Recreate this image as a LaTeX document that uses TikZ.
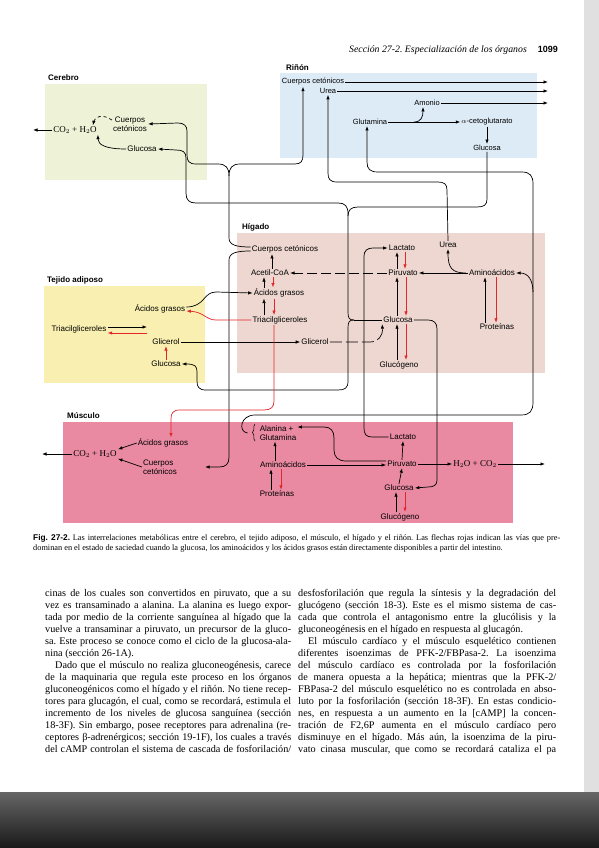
\documentclass[tikz,border=0pt]{standalone}
\usepackage{fontspec}
\setmainfont{Liberation Serif}
\newfontfamily\sansf{Liberation Sans}
\usetikzlibrary{arrows.meta,decorations.pathreplacing}
\definecolor{cerC}{HTML}{EEF2D6}
\definecolor{rinC}{HTML}{DDEBF6}
\definecolor{higC}{HTML}{EDD7D0}
\definecolor{adiC}{HTML}{F8EFB0}
\definecolor{musC}{HTML}{E98AA2}
\definecolor{myred}{HTML}{E3262A}
\newcommand{\jl}[2]{\makebox[#1][s]{#2}}
\frenchspacing
\begin{document}
\begin{tikzpicture}[x=1pt,y=-1pt,
  lbl/.style={font=\sansf\fontsize{8}{9}\selectfont, inner sep=1pt, align=center},
  lbll/.style={lbl, align=left},
  rlbl/.style={font=\sansf\fontsize{7.5}{9}\selectfont, inner sep=1pt},
  ser/.style={font=\fontsize{9}{10}\selectfont, inner sep=1pt},
  reg/.style={font=\sansf\bfseries\fontsize{8}{9}\selectfont, anchor=base west, inner sep=0pt},
  con/.style={line width=0.7pt, -{Latex[length=4.5pt,width=3.4pt]}},
  plain/.style={line width=0.7pt},
  rcon/.style={con, draw=myred, -{Latex[length=4.5pt,width=3.4pt,color=myred]}},
  dsh/.style={dash pattern=on 10pt off 4pt},
  bodytxt/.style={font=\fontsize{10.2}{12}\selectfont, anchor=base west, inner sep=0pt},
  captxt/.style={font=\fontsize{8.3}{10}\selectfont, anchor=base west, inner sep=0pt}
]
\useasboundingbox (0,0) rectangle (599,848);
\fill[white] (0,0) rectangle (599,848);
\fill[black!12] (584,0) rectangle (599,792);
\shade[top color=black!60, bottom color=black!90] (0,792) rectangle (599,848);

% header
\node[font=\itshape\fontsize{9.8}{11}\selectfont, anchor=base east, inner sep=0pt] (hdr) at (527,53) {Sección 27-2. Especialización de los órganos};
\node[font=\sansf\bfseries\fontsize{9}{10}\selectfont, anchor=base east, inner sep=0pt] (pg) at (558,53) {1099};

% region boxes
\fill[cerC] (45,84) rectangle (207,180);
\fill[rinC] (280,73) rectangle (537,158);
\fill[higC] (237,233) rectangle (545,373);
\fill[adiC] (44,286) rectangle (205,383);
\fill[musC] (63,422) rectangle (513,523);

\node[reg] (tCer) at (48,81) {Cerebro};
\node[reg] (tRin) at (286,71) {Riñón};
\node[reg] (tHig) at (242,229) {Hígado};
\node[reg] (tAdi) at (47,282) {Tejido adiposo};
\node[reg] (tMus) at (67,418) {Músculo};

% Cerebro
\node[lbl] (cCC) at (130,124) {Cuerpos\\cetónicos};
\node[lbl] (cGlu) at (142,149) {Glucosa};
\node[ser] (cCO) at (75,130) {CO$_2$ + H$_2$O};
\coordinate (cOut) at (33,130);

% Riñón
\node[rlbl] (rCC) at (313,82) {Cuerpos cetónicos};
\node[rlbl] (rUrea) at (328,91) {Urea};
\node[rlbl] (rAmo) at (427,103) {Amonio};
\node[rlbl] (rGln) at (370,122) {Glutamina};
\node[rlbl] (rAKG) at (487,122) {$\alpha$-cetoglutarato};
\node[rlbl] (rGlu) at (487,148) {Glucosa};
\coordinate (rOut1) at (548,82);
\coordinate (rOut2) at (548,91);
\coordinate (rOut3) at (548,103);

% Hígado
\node[lbl] (hCC) at (285,249) {Cuerpos cetónicos};
\node[lbl] (hAcCoA) at (270,273) {Acetil-CoA};
\node[lbl] (hFA) at (279,293) {Ácidos grasos};
\node[lbl] (hTAG) at (280,320) {Triacilgliceroles};
\node[lbl] (hGlic) at (315,342) {Glicerol};
\node[lbl] (hLac) at (402,248) {Lactato};
\node[lbl] (hUrea) at (448,245) {Urea};
\node[lbl] (hPir) at (403,273) {Piruvato};
\node[lbl] (hAA) at (492,273) {Aminoácidos};
\node[lbl] (hProt) at (497,327) {Proteínas};
\node[lbl] (hGlu) at (398,320) {Glucosa};
\node[lbl] (hGlyc) at (399,365) {Glucógeno};

% Tejido adiposo
\node[lbl] (aFA) at (160,309) {Ácidos grasos};
\node[lbl] (aTAG) at (79,329) {Triacilgliceroles};
\node[lbl] (aGlic) at (166,342) {Glicerol};
\node[lbl] (aGlu) at (166,364) {Glucosa};
\coordinate (aTAGr) at (147,327);
\coordinate (aTAGr2) at (147,333);

% Músculo
\node[ser] (mCO) at (95,454) {CO$_2$ + H$_2$O};
\coordinate (mOut) at (42,454);
\node[lbl] (mFA) at (163,443) {Ácidos grasos};
\node[lbll] (mCC) at (160,467) {Cuerpos\\cetónicos};
\node[lbll] (mAG) at (278,433) {Alanina +\\Glutamina};
\node[lbl] (mAA) at (283,465) {Aminoácidos};
\node[lbl] (mProt) at (277,494) {Proteínas};
\node[lbl] (mLac) at (403,437) {Lactato};
\node[lbl] (mPir) at (402,464) {Piruvato};
\node[lbl] (mGlu) at (399,488) {Glucosa};
\node[lbl] (mGlyc) at (400,517) {Glucógeno};
\node[ser] (mH2O) at (475,464) {H$_2$O + CO$_2$};
\coordinate (mOut2) at (545,464);

% ---------- connectors: Cerebro
\draw[con] (cCO.west) -- (cOut);
\draw[con,dashed] ([yshift=4pt]cCC.west) .. controls (103,114) and (95,116) .. ([xshift=-5pt]cCO.north east);
\draw[con] (cGlu.west) .. controls (106,149) and (98,145) .. (cCO.south east);

% ---------- Riñón
\draw[con] (rCC.east) -- (rOut1);
\draw[con] (rUrea.east) -- (rOut2);
\draw[con] (rAmo.east) -- (rOut3);
\draw[con] (rGln.east) -- (rAKG.west);
\coordinate (amFork) at (414,122);
\draw[con] (amFork) .. controls (421,122) and (423,117) .. (rAmo.south -| 423,0);
\draw[con] (rAKG.south) -- (rGlu.north);

% ---------- Hígado internal
\draw[con] (272,0 |- hAcCoA.north) -- (272,0 |- hCC.south);
\draw[con] (264,0 |- hFA.north) -- (264,0 |- hAcCoA.south);
\draw[rcon] (273,0 |- hAcCoA.south) -- (273,0 |- hFA.north);
\draw[con] (264,0 |- hTAG.north) -- (264,0 |- hFA.south);
\draw[rcon] (274,0 |- hFA.south) -- (274,0 |- hTAG.north);
\draw[con] (397,0 |- hPir.north) -- (397,0 |- hLac.south);
\draw[rcon] (405,0 |- hLac.south) -- (405,0 |- hPir.north);
\draw[con] (397,0 |- hGlu.north) -- (397,0 |- hPir.south);
\draw[rcon] (406,0 |- hPir.south) -- (406,0 |- hGlu.north);
\draw[con] (397,0 |- hGlyc.north) -- (397,0 |- hGlu.south);
\draw[rcon] (406,0 |- hGlu.south) -- (406,0 |- hGlyc.north);
\draw[con] (485,0 |- hProt.north) -- (485,0 |- hAA.south);
\draw[rcon] (496,0 |- hAA.south) -- (496,0 |- hProt.north);
\draw[con] (hAA.west) -- (hPir.east);
\draw[con] ([xshift=-2pt]hAA.west) .. controls (452,273) and (448,268) .. (hUrea.south);
\draw[con,dsh] (hPir.west) -- (hAcCoA.east);
\draw[con,dash pattern=on 12pt off 4pt] (hGlic.east) -- (370,342) .. controls (378,342) and (383,336) .. (hGlu.south west);

% ---------- Cuerpos cetónicos (hígado -> cerebro, riñón, músculo)
\coordinate (ccFork) at (229,176);
\draw[con] ([yshift=2pt]hCC.west) .. controls (236,247) and (229,245) .. (229,238) -- (ccFork) .. controls (229,168) and (226,164) .. (218,164) -- (196,164) .. controls (189,164) and (187,161) .. (187,155) -- (187,131) .. controls (187,126) and (184,123) .. (178,123) -- (cCC.east);
\draw[con] (ccFork) .. controls (229,168) and (232,164) .. (240,164) -- (295,164) .. controls (301,164) and (303,161) .. (303,155) -- (rCC.south -| 303,0);
\draw[con] ([yshift=-2pt]hCC.west) .. controls (236,251) and (229,253) .. (229,260) -- (229,457) .. controls (229,464) and (226,467) .. (219,467) -- ([xshift=27pt]mCC.east);

% ---------- Glucosa (hígado -> cerebro, tejido adiposo; riñón)
\coordinate (hGluB) at (354,320);
\draw[plain] (hGluB) -- (hGlu.west);
\draw[con] (hGluB) .. controls (349,320) and (348,318) .. (348,312) -- (348,214) .. controls (348,206) and (345,203) .. (338,203) -- (196,203) .. controls (189,203) and (186,200) .. (186,193) -- (186,158) .. controls (186,152) and (183,150) .. (176,150) -- (cGlu.east);
\draw[con] (hGluB) .. controls (349,320) and (348,322) .. (348,328) -- (348,381) .. controls (348,388) and (345,390) .. (338,390) -- (206,390) .. controls (199,390) and (197,387) .. (197,381) -- (197,372) .. controls (197,366) and (195,364) .. (aGlu.east);
\draw[plain] (rGlu.south) -- (487,199) .. controls (487,205) and (484,207) .. (477,207) -- (358,207) .. controls (351,207) and (348,210) .. (348,216);

% ---------- Urea
\draw[con] (hUrea.north) -- (447,190) .. controls (447,184) and (444,182) .. (438,182) -- (337,182) .. controls (330,182) and (328,179) .. (328,173) -- (rUrea.south -| 328,0);

% ---------- Adiposo
\draw[con] ([yshift=2pt]aFA.east) .. controls (205,307) and (203,292) .. (216,292) -- (hFA.west);
\draw[rcon] (hTAG.west) -- (216,320) .. controls (206,320) and (204,312) .. ([yshift=-2pt]aFA.east);
\draw[con] ([yshift=2pt]aTAG.east) -- (aTAGr);
\draw[rcon] (aTAGr2) -- ([yshift=-4pt]aTAG.east);
\draw[rcon] (aGlu.north) -- (aGlic.south);
\draw[con] (aGlic.east) -- (hGlic.west);
\draw[rcon] (274,0 |- hTAG.south) -- (274,401) .. controls (274,407) and (271,410) .. (264,410) -- (180,410) .. controls (173,410) and (171,413) .. (171,419) -- (171,0 |- mFA.north);

% ---------- Músculo
\draw[con] (mCO.west) -- (mOut);
\draw[con] (mFA.west) -- (mCO.north east);
\draw[con] (mCC.west) -- (mCO.south east);
\draw[con] (275,0 |- mAA.north) -- (275,0 |- mAG.south);
\draw[con] (271,0 |- mProt.north) -- (271,0 |- mAA.south);
\draw[rcon] (281,0 |- mAA.south) -- (281,0 |- mProt.north);
\draw[con] (mAA.east) -- ([yshift=-1pt]mPir.west);
\draw[con] ([yshift=3pt]mPir.west) -- (346,461) .. controls (338,461) and (334,457) .. (334,450) -- (334,438) .. controls (334,431) and (331,427) .. (324,427) -- ([yshift=6pt]mAG.east);
\draw[con] (mPir.north) -- (mLac.south);
\draw[con] (mGlu.north) -- (mPir.south);
\draw[con] (396,0 |- mGlyc.north) -- (396,0 |- mGlu.south);
\draw[rcon] (405,0 |- mGlu.south) -- (405,0 |- mGlyc.north);
\draw[con] (mPir.east) -- (mH2O.west);
\draw[con] (mH2O.east) -- (mOut2);
\draw[decorate, decoration={brace,amplitude=2.5pt}, line width=0.5pt] (255,441) -- (255,424);

% Lactato músculo -> hígado
\draw[con] (mLac.west) -- (372,437) .. controls (366,437) and (364,434) .. (364,428) -- (364,256) .. controls (364,251) and (367,248) .. (373,248) -- (hLac.west);
% Glucosa hígado -> músculo
\draw[con] (hGlu.east) -- (428,320) .. controls (434,320) and (437,323) .. (437,329) -- (437,480) .. controls (437,485) and (434,487) .. (428,487) -- (mGlu.east);
% Alanina + Glutamina -> hígado, riñón
\coordinate (aaFork) at (533,292);
\draw[con] ([xshift=-11pt]mAG.west) .. controls (238,432) and (240,415) .. (255,415) -- (521,415) .. controls (530,415) and (533,411) .. (533,402) -- (aaFork) -- (533,184) .. controls (533,176) and (530,172) .. (522,172) -- (378,172) .. controls (370,172) and (367,169) .. (367,162) -- (rGln.south -| 367,0);
\draw[con] (aaFork) .. controls (533,280) and (528,273) .. (hAA.east);

% ---------- caption
\node[captxt] (cap1) at (33,540) {\jl{527pt}{{\sansf\bfseries Fig. 27-2.} Las interrelaciones metabólicas entre el cerebro, el tejido adiposo, el músculo, el hígado y el riñón. Las flechas rojas indican las vías que pre-}};
\node[captxt] (cap2) at (33,550) {dominan en el estado de saciedad cuando la glucosa, los aminoácidos y los ácidos grasos están directamente disponibles a partir del intestino.};

% ---------- body text, left column
\node[bodytxt] (l1) at (45,596) {\jl{246pt}{cinas de los cuales son convertidos en piruvato, que a su}};
\node[bodytxt] (l2) at (45,608) {\jl{246pt}{vez es transaminado a alanina. La alanina es luego expor-}};
\node[bodytxt] (l3) at (45,620) {\jl{246pt}{tada por medio de la corriente sanguínea al hígado que la}};
\node[bodytxt] (l4) at (45,632) {\jl{246pt}{vuelve a transaminar a piruvato, un precursor de la gluco-}};
\node[bodytxt] (l5) at (45,644) {\jl{246pt}{sa. Este proceso se conoce como el ciclo de la glucosa-ala-}};
\node[bodytxt] (l6) at (45,656) {nina (sección 26-1A).};
\node[bodytxt] (l7) at (55,668) {\jl{236pt}{Dado que el músculo no realiza gluconeogénesis, carece}};
\node[bodytxt] (l8) at (45,680) {\jl{246pt}{de la maquinaria que regula este proceso en los órganos}};
\node[bodytxt] (l9) at (45,692) {\jl{246pt}{gluconeogénicos como el hígado y el riñón. No tiene recep-}};
\node[bodytxt] (l10) at (45,704) {\jl{246pt}{tores para glucagón, el cual, como se recordará, estimula el}};
\node[bodytxt] (l11) at (45,716) {\jl{246pt}{incremento de los niveles de glucosa sanguínea (sección}};
\node[bodytxt] (l12) at (45,728) {\jl{246pt}{18-3F). Sin embargo, posee receptores para adrenalina (re-}};
\node[bodytxt] (l13) at (45,740) {\jl{246pt}{ceptores β-adrenérgicos; sección 19-1F), los cuales a través}};
\node[bodytxt] (l14) at (45,752) {\jl{246pt}{del cAMP controlan el sistema de cascada de fosforilación/}};

% ---------- body text, right column
\node[bodytxt] (r1) at (298,596) {\jl{258pt}{desfosforilación que regula la síntesis y la degradación del}};
\node[bodytxt] (r2) at (298,608) {\jl{258pt}{glucógeno (sección 18-3). Este es el mismo sistema de cas-}};
\node[bodytxt] (r3) at (298,620) {\jl{258pt}{cada que controla el antagonismo entre la glucólisis y la}};
\node[bodytxt] (r4) at (298,632) {gluconeogénesis en el hígado en respuesta al glucagón.};
\node[bodytxt] (r5) at (308,644) {\jl{248pt}{El músculo cardíaco y el músculo esquelético contienen}};
\node[bodytxt] (r6) at (298,656) {\jl{258pt}{diferentes isoenzimas de PFK-2/FBPasa-2. La isoenzima}};
\node[bodytxt] (r7) at (298,668) {\jl{258pt}{del músculo cardíaco es controlada por la fosforilación}};
\node[bodytxt] (r8) at (298,680) {\jl{258pt}{de manera opuesta a la hepática; mientras que la PFK-2/}};
\node[bodytxt] (r9) at (298,692) {\jl{258pt}{FBPasa-2 del músculo esquelético no es controlada en abso-}};
\node[bodytxt] (r10) at (298,704) {\jl{258pt}{luto por la fosforilación (sección 18-3F). En estas condicio-}};
\node[bodytxt] (r11) at (298,716) {\jl{258pt}{nes, en respuesta a un aumento en la [cAMP] la concen-}};
\node[bodytxt] (r12) at (298,728) {\jl{258pt}{tración de F2,6P aumenta en el músculo cardíaco pero}};
\node[bodytxt] (r13) at (298,740) {\jl{258pt}{disminuye en el hígado. Más aún, la isoenzima de la piru-}};
\node[bodytxt] (r14) at (298,752) {\jl{258pt}{vato cinasa muscular, que como se recordará cataliza el pa}};
\end{tikzpicture}
\end{document}
